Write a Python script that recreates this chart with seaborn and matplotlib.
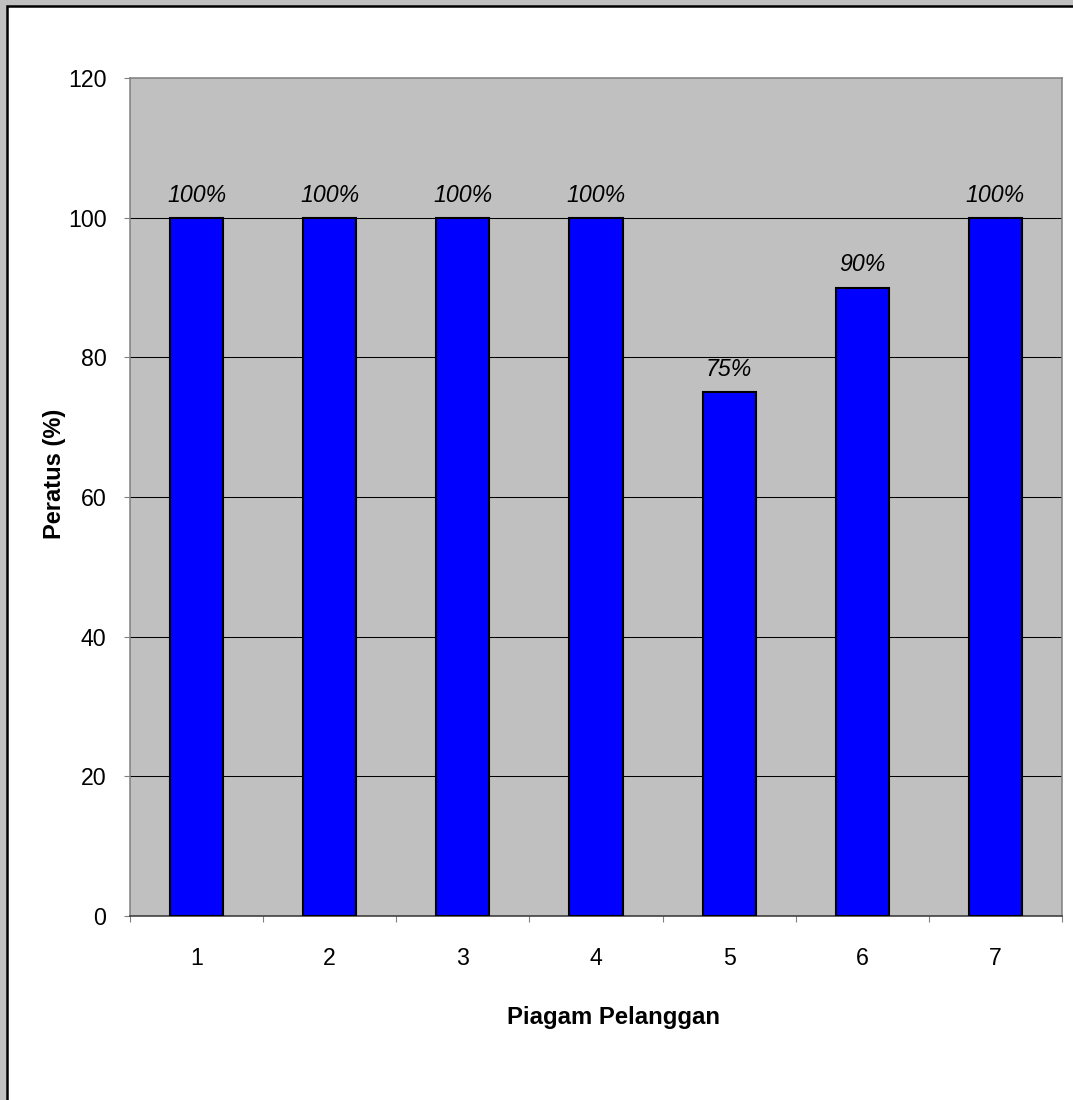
import matplotlib
matplotlib.use("Agg")
import matplotlib.pyplot as plt
from matplotlib.patches import Rectangle
from matplotlib.ticker import FixedLocator
import seaborn as sns
import pandas as pd

categories = ["1", "2", "3", "4", "5", "6", "7"]
values = [100, 100, 100, 100, 75, 90, 100]
value_labels = ["100%", "100%", "100%", "100%", "75%", "90%", "100%"]
y_ticks = [0, 20, 40, 60, 80, 100, 120]

df = pd.DataFrame({"Piagam": categories, "Peratus": values})

sns.set_theme(style="white")
plt.rcParams["font.family"] = ["Liberation Sans", "DejaVu Sans"]

W, H = 1073, 1100
fig = plt.figure(figsize=(W / 100, H / 100), dpi=100)
fig.patch.set_facecolor("#C0C0C0")

# white chart area with a black frame (right/bottom edges run off the page)
frame = Rectangle((7 / W, -0.05), 1.1, 1 - 6 / H + 0.05, transform=fig.transFigure,
                  facecolor="white", edgecolor="black", linewidth=1.8, zorder=-1)
fig.patches.append(frame)

ax = fig.add_axes([130 / W, 1 - 916 / H, (1062 - 130) / W, (916 - 78) / H])
ax.set_zorder(1)
ax.set_facecolor("#C0C0C0")

sns.barplot(data=df, x="Piagam", y="Peratus", ax=ax, color="#0000FF",
            saturation=1, width=0.4, edgecolor="black", linewidth=1.5, zorder=3)

ax.set_ylim(0, 120)
ax.set_xlim(-0.5, len(categories) - 0.5)
ax.set_yticks(y_ticks)
ax.set_yticklabels([str(t) for t in y_ticks], fontsize=16.7, color="black")

# horizontal grid lines
for t in y_ticks[1:-1]:
    ax.axhline(t, color="black", linewidth=0.75, zorder=1)

# x ticks sit on category boundaries, labels centred under bars
ax.xaxis.set_major_locator(FixedLocator([i - 0.5 for i in range(len(categories) + 1)]))
ax.set_xticklabels([""] * (len(categories) + 1))
ax.xaxis.set_minor_locator(FixedLocator(list(range(len(categories)))))
ax.set_xticklabels(categories, minor=True, fontsize=16.7, color="black")
ax.tick_params(axis="x", which="minor", length=0, pad=22)
ax.tick_params(axis="x", which="major", length=4.5, width=0.8, color="#808080",
               direction="out", bottom=True)
ax.tick_params(axis="y", length=4.5, width=0.8, color="#808080", direction="out",
               left=True, pad=12.5)

for side in ["top", "right", "left"]:
    ax.spines[side].set_color("#808080")
    ax.spines[side].set_linewidth(1.1)
    ax.spines[side].set_visible(True)
ax.spines["bottom"].set_color("#333333")
ax.spines["bottom"].set_linewidth(1.1)
ax.spines["bottom"].set_visible(True)

for i, (v, lab) in enumerate(zip(values, value_labels)):
    ax.text(i, v + 2.3, lab, ha="center", va="baseline", fontsize=16.7,
            style="italic", color="black", zorder=4)

ax.set_xlabel("Piagam Pelanggan", fontsize=17.2, fontweight="bold", va="center",
              color="black")
ax.xaxis.set_label_coords(0.519, -0.1217)
ax.set_ylabel("Peratus (%)", fontsize=17, fontweight="bold", va="center",
              color="black")
ax.yaxis.set_label_coords(-0.0815, 0.527)

fig.savefig("out.png", dpi=100, facecolor=fig.get_facecolor())
